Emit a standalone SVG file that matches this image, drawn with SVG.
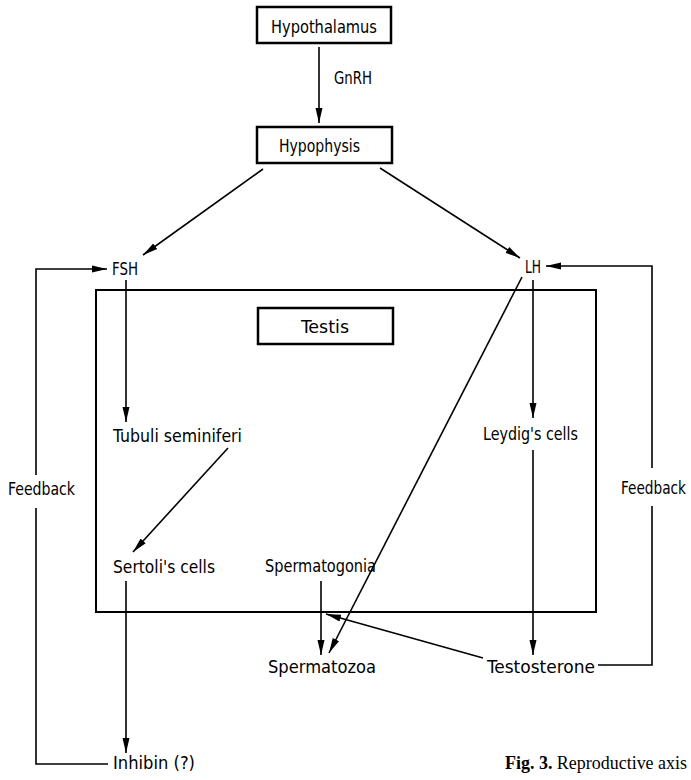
<svg xmlns="http://www.w3.org/2000/svg" width="691" height="780" viewBox="0 0 691 780">
<style>
.t{font-family:"DejaVu Sans Condensed","Liberation Sans Narrow","Liberation Sans",sans-serif;font-size:17px;fill:#000}
.box{fill:#fff;stroke:#000;stroke-width:2.5}
.ln{fill:none;stroke:#000;stroke-width:1.6}
.ar{marker-end:url(#ah)}
.cap{font-family:"Liberation Serif","Times New Roman",serif;font-size:18px;fill:#000}
</style>
<defs>
<marker id="ah" markerUnits="userSpaceOnUse" markerWidth="16" markerHeight="8" refX="15" refY="4" orient="auto">
<path d="M0,0.5 L15,4 L0,7.5 z" fill="#000"/>
</marker>
</defs>
<rect width="691" height="780" fill="#fff"/>
<g id="testis-frame"><rect x="96" y="290" width="500" height="322" fill="none" stroke="#000" stroke-width="2"/></g>
<g id="connectors">
<line class="ln ar" x1="319" y1="47" x2="319" y2="123"/>
<line class="ln ar" x1="263" y1="169" x2="143" y2="255"/>
<line class="ln ar" x1="380" y1="168" x2="520" y2="258"/>
<polyline class="ln ar" points="36,475 36,269 107,269"/>
<polyline class="ln" points="36,508 36,764 108,764"/>
<polyline class="ln ar" points="652,468 652,266 546,266"/>
<polyline class="ln" points="652,506 652,665 598,665"/>
<line class="ln ar" x1="126" y1="280" x2="126" y2="422"/>
<line class="ln ar" x1="228" y1="448" x2="133" y2="552"/>
<line class="ln ar" x1="126" y1="581" x2="126" y2="753"/>
<line class="ln ar" x1="533" y1="280" x2="533" y2="418"/>
<line class="ln ar" x1="533" y1="450" x2="533" y2="655"/>
<line class="ln ar" x1="522" y1="277" x2="329" y2="653"/>
<line class="ln ar" x1="321" y1="581" x2="321" y2="655"/>
<line class="ln ar" x1="483" y1="658" x2="326" y2="614"/>
</g>
<g id="hypothalamus"><rect class="box" x="257" y="7" width="134" height="36"/><text class="t" x="271" y="33" textLength="106" lengthAdjust="spacingAndGlyphs">Hypothalamus</text></g>
<g id="gnrh"><text class="t" x="334" y="84" textLength="38" lengthAdjust="spacingAndGlyphs">GnRH</text></g>
<g id="hypophysis"><rect class="box" x="257" y="127" width="135" height="36"/><text class="t" x="279" y="152" textLength="81" lengthAdjust="spacingAndGlyphs">Hypophysis</text></g>
<g id="fsh"><text class="t" x="112" y="275" textLength="26" lengthAdjust="spacingAndGlyphs">FSH</text></g>
<g id="lh"><text class="t" x="525" y="273" textLength="16" lengthAdjust="spacingAndGlyphs">LH</text></g>
<g id="testis"><rect class="box" x="258" y="308" width="135" height="36" stroke-width="2"/><text class="t" x="301" y="333" textLength="48" lengthAdjust="spacingAndGlyphs">Testis</text></g>
<g id="tubuli"><text class="t" x="113" y="442" textLength="129" lengthAdjust="spacingAndGlyphs">Tubuli seminiferi</text></g>
<g id="leydig"><text class="t" x="483" y="440" textLength="95" lengthAdjust="spacingAndGlyphs">Leydig's cells</text></g>
<g id="feedback-left"><text class="t" x="8" y="495" textLength="67" lengthAdjust="spacingAndGlyphs">Feedback</text></g>
<g id="feedback-right"><text class="t" x="621" y="494" font-size="16" textLength="65" lengthAdjust="spacingAndGlyphs">Feedback</text></g>
<g id="sertoli"><text class="t" x="113" y="573" textLength="102" lengthAdjust="spacingAndGlyphs">Sertoli's cells</text></g>
<g id="spermatogonia"><text class="t" x="265" y="572" textLength="111" lengthAdjust="spacingAndGlyphs">Spermatogonia</text></g>
<g id="spermatozoa"><text class="t" x="268" y="673" textLength="108" lengthAdjust="spacingAndGlyphs">Spermatozoa</text></g>
<g id="testosterone"><text class="t" x="487" y="673" textLength="108" lengthAdjust="spacingAndGlyphs">Testosterone</text></g>
<g id="inhibin"><text class="t" x="113" y="769" textLength="82" lengthAdjust="spacingAndGlyphs">Inhibin (?)</text></g>
<g id="caption"><text class="cap" x="505" y="769" textLength="182" lengthAdjust="spacingAndGlyphs"><tspan font-weight="bold">Fig. 3.</tspan> Reproductive axis</text></g>
</svg>
